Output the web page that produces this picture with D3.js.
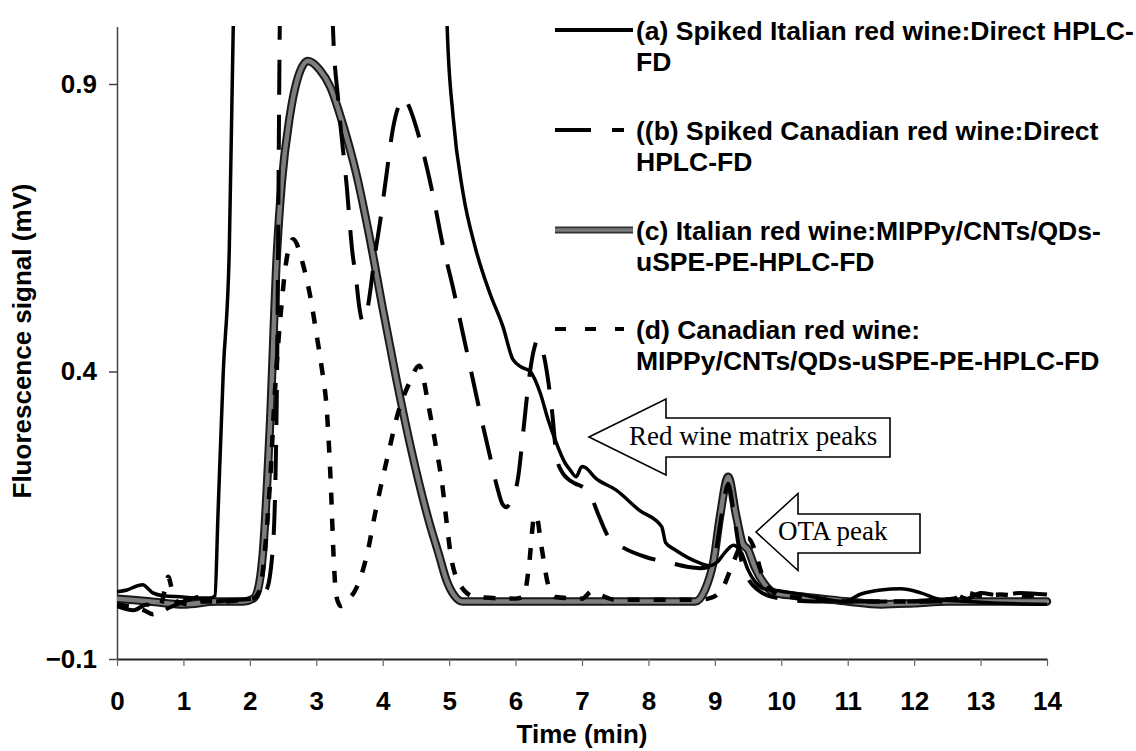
<!DOCTYPE html>
<html>
<head>
<meta charset="utf-8">
<script src="https://cdn.jsdelivr.net/npm/d3@7"></script>
<style>
  html, body { margin: 0; padding: 0; background: #fff; }
  svg { display: block; }
  .tick text { font-family: "Liberation Sans", Arial, sans-serif; font-weight: bold; font-size: 26px; fill: #000; }
</style>
</head>
<body>
<svg id="chart" width="1136" height="751"></svg>
<script>
// Chromatogram traces: retention time (min) and fluorescence signal (mV)
const aTime   = [0, 0.15, 0.3, 0.39, 0.47, 0.54, 0.7, 0.99, 1.2, 1.4, 1.475, 1.52, 1.6, 1.69, 1.75, 1.78, 4.94, 4.97, 5.06, 5.21, 5.39, 5.61, 5.81, 5.96, 6.1, 6.22, 6.37, 6.49, 6.6, 6.75, 6.82, 6.91, 7.0, 7.05, 7.2, 7.51, 7.86, 8.2, 8.26, 8.4, 8.77, 8.91, 9.05, 9.15, 9.28, 9.4, 9.5, 9.6, 9.75, 10.0, 10.4, 10.94, 11.2, 11.5, 11.8, 12.1, 12.4, 12.8, 13.3, 14];
const aSignal = [0.017, 0.02, 0.027, 0.029, 0.022, 0.015, 0.01, 0.008, 0.006, 0.006, 0.01, 0.15, 0.4, 0.611, 1.0, 1.15, 1.15, 1.0, 0.843, 0.71, 0.617, 0.537, 0.478, 0.421, 0.407, 0.4, 0.363, 0.316, 0.28, 0.24, 0.229, 0.217, 0.235, 0.233, 0.215, 0.194, 0.159, 0.13, 0.102, 0.09, 0.067, 0.062, 0.07, 0.085, 0.098, 0.085, 0.055, 0.035, 0.022, 0.018, 0.01, 0.0, 0.013, 0.02, 0.022, 0.015, 0.003, 0.0, -0.003, -0.005];

const bTime   = [0, 0.25, 0.45, 0.6, 0.8, 1.0, 1.35, 1.45, 1.8, 2.1, 2.25, 2.35, 2.41, 2.43, 2.45, 2.47, 3.22, 3.25, 3.33, 3.46, 3.54, 3.6, 3.65, 3.7, 3.75, 3.8, 3.88, 3.96, 4.06, 4.15, 4.25, 4.32, 4.4, 4.53, 4.74, 4.91, 5.05, 5.2, 5.35, 5.5, 5.62, 5.72, 5.8, 5.86, 5.93, 6.04, 6.12, 6.2, 6.28, 6.33, 6.4, 6.47, 6.55, 6.62, 6.7, 6.77, 6.9, 7.0, 7.11, 7.25, 7.4, 7.6, 7.97, 8.3, 8.6, 8.77, 8.9, 9.0, 9.1, 9.2, 9.3, 9.4, 9.5, 9.65, 9.8, 10.0, 10.5, 11.0, 12.0, 12.4, 12.6, 12.8, 13.0, 13.3, 13.6, 14];
const bSignal = [-0.008, -0.015, -0.005, -0.02, -0.01, 0.0, 0.01, 0.0, 0.003, 0.005, 0.02, 0.1, 0.4, 0.7, 1.0, 1.15, 1.15, 1.0, 0.872, 0.72, 0.611, 0.56, 0.51, 0.487, 0.495, 0.53, 0.6, 0.66, 0.745, 0.82, 0.865, 0.876, 0.86, 0.815, 0.716, 0.617, 0.55, 0.47, 0.39, 0.31, 0.25, 0.2, 0.17, 0.164, 0.175, 0.217, 0.3, 0.385, 0.44, 0.455, 0.44, 0.4, 0.33, 0.25, 0.225, 0.215, 0.205, 0.2, 0.189, 0.15, 0.112, 0.095, 0.077, 0.068, 0.06, 0.058, 0.06, 0.08, 0.15, 0.205, 0.14, 0.07, 0.04, 0.02, 0.01, 0.005, 0.0, 0.0, 0.0, 0.0, 0.012, 0.005, 0.015, 0.01, 0.015, 0.012];

const cTime   = [0, 0.5, 1.0, 1.5, 1.9, 2.05, 2.12, 2.2, 2.3, 2.41, 2.48, 2.6, 2.72, 2.875, 3.05, 3.21, 3.4, 3.6, 3.8, 4.0, 4.2, 4.42, 4.69, 4.85, 4.96, 5.08, 5.2, 6.0, 7.0, 8.0, 8.7, 8.85, 8.98, 9.08, 9.2, 9.32, 9.42, 9.5, 9.6, 9.75, 9.9, 10.2, 10.6, 11.0, 11.5, 12.0, 12.5, 13.0, 14];
const cSignal = [0.005, 0.0, -0.005, 0.0, 0.0, 0.005, 0.02, 0.09, 0.3, 0.611, 0.728, 0.843, 0.91, 0.94, 0.925, 0.895, 0.83, 0.745, 0.635, 0.51, 0.39, 0.269, 0.142, 0.08, 0.037, 0.01, 0.0, 0.0, 0.0, 0.0, 0.0, 0.02, 0.07, 0.15, 0.217, 0.15, 0.1, 0.09, 0.06, 0.03, 0.015, 0.01, 0.005, 0.0, -0.005, -0.003, 0.0, 0.0, 0.0];

const dTime   = [0, 0.24, 0.4, 0.54, 0.65, 0.72, 0.77, 0.83, 0.9, 1.1, 1.3, 1.6, 1.9, 2.05, 2.15, 2.22, 2.3, 2.38, 2.48, 2.56, 2.65, 2.81, 2.92, 3.0, 3.08, 3.16, 3.22, 3.26, 3.3, 3.37, 3.5, 3.61, 3.78, 3.88, 3.99, 4.1, 4.2, 4.4, 4.55, 4.69, 4.8, 4.9, 4.96, 5.04, 5.22, 5.39, 6.0, 6.12, 6.2, 6.28, 6.31, 6.39, 6.5, 6.6, 7.0, 7.15, 7.3, 7.5, 8.0, 8.7, 8.9, 9.1, 9.25, 9.4, 9.5, 9.6, 9.7, 9.85, 10.0, 10.5, 11.0, 12.0, 12.6, 12.8, 13.0, 13.3, 13.6, 14];
const dSignal = [-0.005, -0.01, -0.015, -0.022, -0.01, 0.02, 0.043, 0.02, 0.0, -0.005, 0.0, 0.0, 0.003, 0.005, 0.02, 0.08, 0.2, 0.37, 0.52, 0.6, 0.63, 0.582, 0.524, 0.467, 0.408, 0.33, 0.2, 0.08, 0.01, -0.008, 0.005, 0.025, 0.09, 0.15, 0.21, 0.265, 0.315, 0.38, 0.41, 0.34, 0.27, 0.2, 0.14, 0.07, 0.02, 0.008, 0.005, 0.008, 0.06, 0.147, 0.15, 0.095, 0.025, 0.008, 0.005, 0.018, 0.01, 0.003, 0.003, 0.003, 0.005, 0.02, 0.06, 0.1, 0.11, 0.09, 0.05, 0.02, 0.01, 0.005, 0.0, 0.0, 0.005, 0.015, 0.01, 0.012, 0.01, 0.012];

const xTicks = [0, 1, 2, 3, 4, 5, 6, 7, 8, 9, 10, 11, 12, 13, 14];
const yTicks = [-0.1, 0.4, 0.9];

const legendLabels = [
  ["(a) Spiked Italian red wine:Direct HPLC-", "FD"],
  ["((b) Spiked Canadian red wine:Direct", "HPLC-FD"],
  ["(c) Italian red wine:MIPPy/CNTs/QDs-", "uSPE-PE-HPLC-FD"],
  ["(d) Canadian red wine:", "MIPPy/CNTs/QDs-uSPE-PE-HPLC-FD"]
];
const arrowNotes = ["Red wine matrix peaks", "OTA peak"];

const svg = d3.select("#chart");
svg.append("rect").attr("width", 1136).attr("height", 751).attr("fill", "#fff");

const x = d3.scaleLinear().domain([0, 14]).range([117, 1047]);
const y = d3.scaleLinear().domain([-0.1, 1.0]).range([659, 26.5]);

svg.append("defs").append("clipPath").attr("id", "plotClip")
  .append("rect").attr("x", 117).attr("y", 26).attr("width", 935).attr("height", 640);

// Axes
const yAxis = d3.axisLeft(y).tickValues(yTicks).tickSize(8).tickSizeOuter(0).tickPadding(12)
  .tickFormat(d3.format(".1f"));
const gy = svg.append("g").attr("transform", "translate(117,0)").call(yAxis);
gy.select(".domain").attr("stroke", "#444").attr("stroke-width", 1.5);
gy.selectAll(".tick line").attr("stroke", "#444").attr("stroke-width", 1.5);

const xAxis = d3.axisBottom(x).tickValues(xTicks).tickSize(7).tickSizeOuter(0).tickPadding(26)
  .tickFormat(d3.format("d"));
const gx = svg.append("g").attr("transform", "translate(0,659)").call(xAxis);
gx.select(".domain").attr("stroke", "#222").attr("stroke-width", 2);
gx.selectAll(".tick line").attr("stroke", "#666").attr("stroke-width", 1.2);

svg.append("text")
  .attr("x", 582).attr("y", 743).attr("text-anchor", "middle")
  .attr("font-family", "Liberation Sans, Arial, sans-serif").attr("font-weight", "bold").attr("font-size", 26)
  .text("Time (min)");
svg.append("text")
  .attr("transform", "translate(31,341) rotate(-90)").attr("text-anchor", "middle")
  .attr("font-family", "Liberation Sans, Arial, sans-serif").attr("font-weight", "bold").attr("font-size", 26)
  .text("Fluorescence signal (mV)");

// Traces
const line = d3.line().x(d => x(d[0])).y(d => y(d[1])).curve(d3.curveMonotoneX);
const zipSeries = (t, v) => t.map((tt, i) => [tt, v[i]]);
const plot = svg.append("g").attr("clip-path", "url(#plotClip)");

const styles = {
  a: { color: "#000", width: 3.5, dash: null },
  b: { color: "#000", width: 4, dash: "35,20" },
  d: { color: "#000", width: 4.5, dash: "12,14" }
};

function drawGrayTrace(sel, d) {
  sel.append("path").attr("d", d).attr("fill", "none").attr("stroke", "#1a1a1a")
    .attr("stroke-width", 8.5).attr("stroke-linejoin", "round").attr("stroke-linecap", "round");
  sel.append("path").attr("d", d).attr("fill", "none").attr("stroke", "#7e7e7e")
    .attr("stroke-width", 4.5).attr("stroke-linejoin", "round").attr("stroke-linecap", "round");
}

drawGrayTrace(plot, line(zipSeries(cTime, cSignal)));
[["a", aTime, aSignal], ["b", bTime, bSignal], ["d", dTime, dSignal]].forEach(([k, t, v]) => {
  const s = styles[k];
  plot.append("path").attr("d", line(zipSeries(t, v))).attr("fill", "none")
    .attr("stroke", s.color).attr("stroke-width", s.width)
    .attr("stroke-dasharray", s.dash).attr("stroke-linejoin", "round");
});

// Legend
const legend = svg.append("g").attr("font-family", "Liberation Sans, Arial, sans-serif")
  .attr("font-weight", "bold").attr("font-size", 26.5);
const legendY = [30, 130, 230, 329];
const keyOrder = ["a", "b", "c", "d"];
keyOrder.forEach((k, i) => {
  const ly = legendY[i];
  if (k === "c") {
    legend.append("line").attr("x1", 555).attr("x2", 633).attr("y1", ly).attr("y2", ly)
      .attr("stroke", "#333").attr("stroke-width", 7);
    legend.append("line").attr("x1", 555).attr("x2", 633).attr("y1", ly).attr("y2", ly)
      .attr("stroke", "#7a7a7a").attr("stroke-width", 3.5);
  } else {
    const s = styles[k];
    legend.append("line").attr("x1", 555).attr("x2", k === "a" ? 633 : 624).attr("y1", ly).attr("y2", ly)
      .attr("stroke", "#000").attr("stroke-width", 4)
      .attr("stroke-dasharray", k === "b" ? "36,21" : (k === "d" ? "11,19" : null));
  }
  legend.append("text").attr("x", 636).attr("y", ly + 10).text(legendLabels[i][0]);
  legend.append("text").attr("x", 636).attr("y", ly + 41).text(legendLabels[i][1]);
});

// Callout arrows
const arrowShapes = [
  { tip: [589, 437], headX: 666, headHalf: 38, boxTop: 418, boxBottom: 457, right: 890, textX: 629, textY: 445 },
  { tip: [756, 532], headX: 798, headHalf: 38.5, boxTop: 514, boxBottom: 553, right: 920, textX: 778, textY: 540 }
];
arrowShapes.forEach((s, i) => {
  const [tx, ty] = s.tip;
  const pts = [
    [tx, ty], [s.headX, ty - s.headHalf], [s.headX, s.boxTop], [s.right, s.boxTop],
    [s.right, s.boxBottom], [s.headX, s.boxBottom], [s.headX, ty + s.headHalf]
  ];
  svg.append("polygon").attr("points", pts.map(p => p.join(",")).join(" "))
    .attr("fill", "#fff").attr("stroke", "#000").attr("stroke-width", 1.6);
  svg.append("text").attr("x", s.textX).attr("y", s.textY)
    .attr("font-family", "Liberation Serif, Times New Roman, serif").attr("font-size", 27)
    .text(arrowNotes[i]);
});
</script>
</body>
</html>
